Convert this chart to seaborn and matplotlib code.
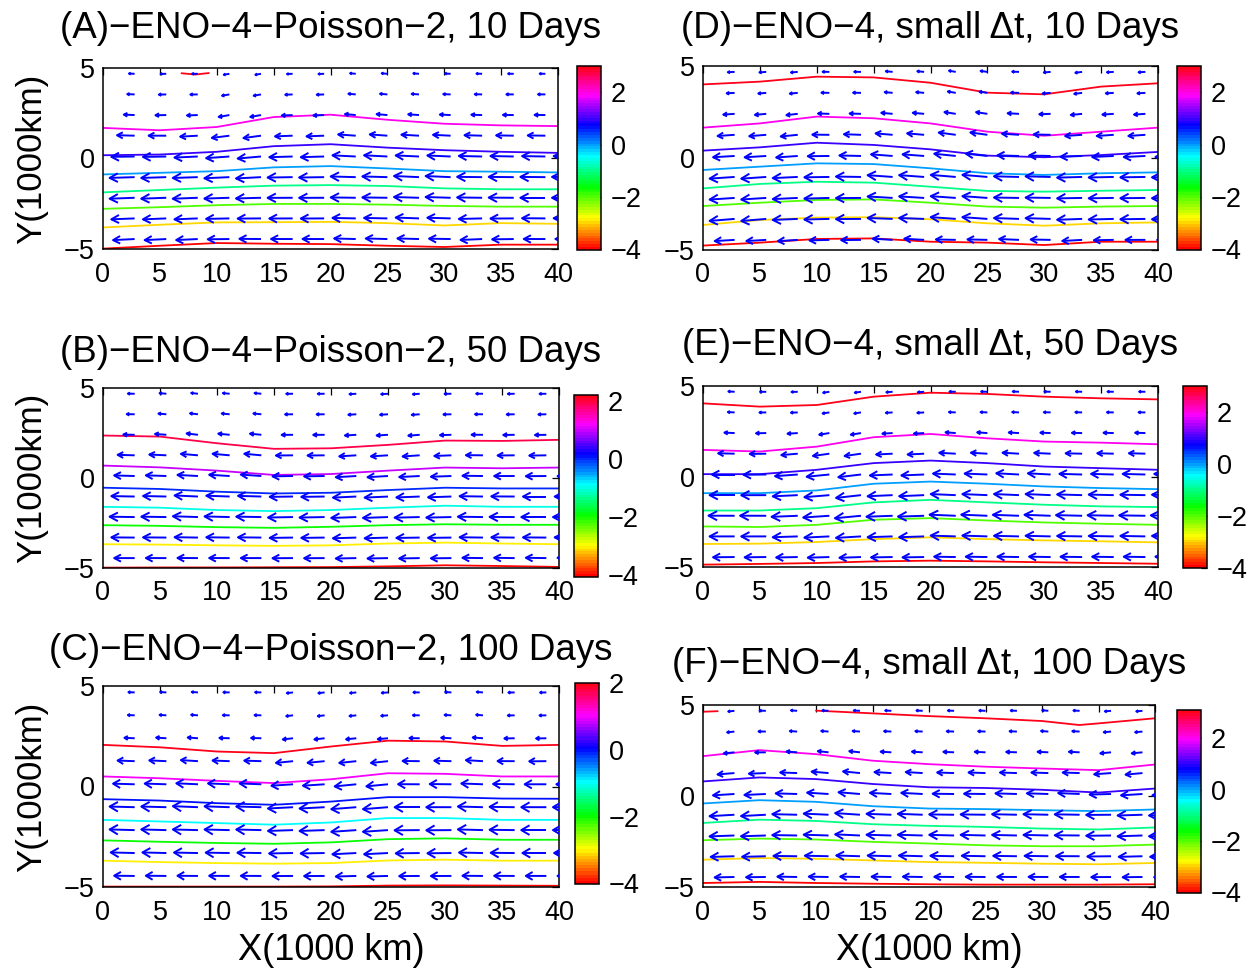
import numpy as np
import pandas as pd
import matplotlib
matplotlib.use("Agg")
import matplotlib.pyplot as plt
import seaborn as sns
from matplotlib.collections import LineCollection
from matplotlib.colors import Normalize
from matplotlib.cm import ScalarMappable

sns.set_style("white")
plt.rcParams["font.family"] = ["Liberation Sans", "DejaVu Sans"]
plt.rcParams.update({"text.color": "black", "axes.labelcolor": "black",
                     "xtick.color": "black", "ytick.color": "black"})

W, H = 1254, 972

# ---------------------------------------------------------------- data
X_KNOTS = [0, 5, 10, 15, 20, 25, 30, 35, 40]
LEVELS = [-4, -3, -2, -1, 0, 1, 2]

# height-field contour positions Y (1000 km) at X_KNOTS, one row per level in LEVELS
LINES_A = [
    [-4.98, -4.82, -4.67, -4.71, -4.73, -4.82, -4.89, -4.76, -4.76],
    [-3.81, -3.66, -3.53, -3.52, -3.50, -3.57, -3.70, -3.57, -3.61],
    [-2.78, -2.69, -2.58, -2.51, -2.51, -2.55, -2.62, -2.66, -2.66],
    [-1.87, -1.74, -1.61, -1.50, -1.47, -1.52, -1.65, -1.70, -1.70],
    [-0.88, -0.79, -0.70, -0.49, -0.42, -0.55, -0.70, -0.73, -0.77],
    [0.18, 0.22, 0.37, 0.68, 0.79, 0.60, 0.46, 0.37, 0.31],
    [1.69, 1.56, 1.74, 2.29, 2.42, 2.14, 1.92, 1.83, 1.79],
]
TOP_A_X = [6.9, 8.1, 9.3]
TOP_A_Y = [4.71, 4.64, 4.72]

LINES_B = [
    [-4.98, -4.97, -4.97, -4.96, -4.95, -4.91, -4.85, -4.89, -4.94],
    [-3.68, -3.70, -3.74, -3.77, -3.74, -3.64, -3.59, -3.64, -3.68],
    [-2.62, -2.66, -2.73, -2.77, -2.71, -2.62, -2.57, -2.60, -2.60],
    [-1.60, -1.65, -1.78, -1.84, -1.78, -1.65, -1.54, -1.60, -1.60],
    [-0.54, -0.61, -0.76, -0.86, -0.82, -0.67, -0.54, -0.58, -0.58],
    [0.69, 0.59, 0.41, 0.17, 0.22, 0.41, 0.58, 0.54, 0.58],
    [2.36, 2.30, 1.93, 1.62, 1.65, 1.84, 2.08, 2.06, 2.12],
]

LINES_C = [
    [-4.98, -4.98, -4.98, -4.98, -4.97, -4.93, -4.92, -4.93, -4.94],
    [-3.69, -3.76, -3.81, -3.84, -3.81, -3.68, -3.64, -3.69, -3.69],
    [-2.68, -2.75, -2.81, -2.85, -2.78, -2.62, -2.58, -2.65, -2.65],
    [-1.66, -1.74, -1.82, -1.90, -1.79, -1.57, -1.57, -1.66, -1.66],
    [-0.63, -0.70, -0.83, -0.91, -0.75, -0.53, -0.53, -0.60, -0.61],
    [0.50, 0.41, 0.28, 0.17, 0.36, 0.66, 0.63, 0.50, 0.50],
    [2.07, 1.95, 1.74, 1.66, 1.99, 2.28, 2.24, 2.02, 2.07],
]

LINES_D = [
    [-4.76, -4.60, -4.40, -4.37, -4.55, -4.60, -4.73, -4.55, -4.55],
    [-3.64, -3.37, -3.24, -3.22, -3.33, -3.55, -3.68, -3.55, -3.50],
    [-2.61, -2.43, -2.28, -2.25, -2.43, -2.64, -2.70, -2.64, -2.61],
    [-1.65, -1.41, -1.29, -1.34, -1.56, -1.79, -1.83, -1.78, -1.74],
    [-0.65, -0.47, -0.29, -0.33, -0.56, -0.83, -0.92, -0.83, -0.78],
    [0.40, 0.58, 0.83, 0.71, 0.47, 0.13, 0.04, 0.16, 0.33],
    [1.65, 1.88, 2.25, 2.16, 1.88, 1.43, 1.21, 1.43, 1.65],
]
TOP_D_X = X_KNOTS
TOP_D_Y = [4.00, 4.15, 4.42, 4.38, 4.09, 3.55, 3.46, 3.88, 4.06]

LINES_E = [
    [-4.87, -4.83, -4.78, -4.69, -4.65, -4.69, -4.74, -4.78, -4.82],
    [-3.73, -3.71, -3.62, -3.46, -3.36, -3.46, -3.53, -3.58, -3.64],
    [-2.76, -2.79, -2.67, -2.39, -2.30, -2.43, -2.54, -2.61, -2.67],
    [-1.88, -1.88, -1.75, -1.43, -1.29, -1.43, -1.56, -1.65, -1.69],
    [-0.92, -0.92, -0.77, -0.40, -0.28, -0.40, -0.55, -0.64, -0.70],
    [0.13, 0.13, 0.37, 0.74, 0.88, 0.74, 0.55, 0.46, 0.37],
    [1.47, 1.38, 1.65, 2.17, 2.35, 2.11, 1.93, 1.87, 1.78],
]
TOP_E_X = X_KNOTS
TOP_E_Y = [4.04, 3.86, 3.95, 4.41, 4.63, 4.56, 4.41, 4.32, 4.26]

LINES_F = [
    [-4.78, -4.72, -4.78, -4.82, -4.85, -4.87, -4.87, -4.87, -4.85],
    [-3.50, -3.41, -3.45, -3.54, -3.63, -3.67, -3.72, -3.75, -3.68],
    [-2.43, -2.34, -2.39, -2.52, -2.61, -2.71, -2.76, -2.76, -2.67],
    [-1.48, -1.30, -1.37, -1.55, -1.64, -1.70, -1.79, -1.84, -1.73],
    [-0.41, -0.23, -0.32, -0.56, -0.69, -0.72, -0.78, -0.83, -0.74],
    [0.80, 1.02, 0.93, 0.66, 0.48, 0.44, 0.34, 0.19, 0.41],
    [2.19, 2.52, 2.30, 1.94, 1.75, 1.61, 1.51, 1.42, 1.73],
]
TOP_F_X1 = [0.0, 1.3]
TOP_F_Y1 = [4.63, 4.66]
TOP_F_X2 = [10.0, 15.0, 20.0, 25.0, 30.0, 33.3, 35.0, 40.0]
TOP_F_Y2 = [4.69, 4.54, 4.39, 4.27, 4.12, 3.90, 3.99, 4.27]

# wind vectors: grid columns / rows and westward speed per row (top to bottom)
ARROW_X = [2.78, 5.56, 8.33, 11.11, 13.89, 16.67, 19.44, 22.22,
           25.00, 27.78, 30.56, 33.33, 36.11, 38.89, 41.67]
ARROW_Y = [4.68, 3.54, 2.40, 1.26, 0.11, -1.03, -2.17, -3.31, -4.45]
SPEED_A = [0.50, 0.65, 0.95, 1.55, 2.05, 2.20, 2.20, 2.05, 1.90]
SPEED_B = [0.60, 0.70, 1.00, 1.50, 1.80, 2.05, 2.20, 2.05, 1.80]
SPEED_C = [0.55, 0.60, 0.90, 1.50, 1.90, 2.20, 2.20, 2.10, 1.80]
SPEED_D = [0.60, 0.70, 1.00, 1.50, 1.90, 2.20, 2.20, 2.20, 1.75]
SPEED_E = [0.55, 0.60, 0.90, 1.45, 2.00, 2.20, 2.30, 2.20, 1.90]
SPEED_F = [0.55, 0.65, 0.95, 1.50, 1.90, 2.20, 2.20, 2.10, 1.75]

# colour-bar ranges of the height field
CRANGE_A = (-4.02, 3.00)
CRANGE_B = (-4.06, 2.20)
CRANGE_C = (-4.02, 2.00)
CRANGE_D = (-4.02, 3.00)
CRANGE_E = (-4.00, 3.00)
CRANGE_F = (-4.02, 3.10)

TITLES = [
    "(A)\u2212ENO\u22124\u2212Poisson\u22122, 10 Days",
    "(B)\u2212ENO\u22124\u2212Poisson\u22122, 50 Days",
    "(C)\u2212ENO\u22124\u2212Poisson\u22122, 100 Days",
    "(D)\u2212ENO\u22124, small \u0394t, 10 Days",
    "(E)\u2212ENO\u22124, small \u0394t, 50 Days",
    "(F)\u2212ENO\u22124, small \u0394t, 100 Days",
]
XTICKS = [0, 5, 10, 15, 20, 25, 30, 35, 40]
YTICKS = [-5, 0, 5]
CBTICKS = [-4, -2, 0, 2]
XLABEL = "X(1000 km)"
YLABEL = "Y(1000km)"


def pieces(lines, extra):
    rows = []
    pid = 0
    for lev, ys in zip(LEVELS, lines):
        for x, y in zip(X_KNOTS, ys):
            rows.append((x, y, lev, pid))
        pid += 1
    for lev, xs, ys in extra:
        for x, y in zip(xs, ys):
            rows.append((x, y, lev, pid))
        pid += 1
    return pd.DataFrame(rows, columns=["x", "y", "level", "piece"])


PANELS = [
    dict(lines=pieces(LINES_A, [(3, TOP_A_X, TOP_A_Y)]), speed=SPEED_A, cr=CRANGE_A,
         ax=(103, 68, 558, 249), cb=(577, 66, 601, 250), title_dy=40),
    dict(lines=pieces(LINES_B, []), speed=SPEED_B, cr=CRANGE_B,
         ax=(103, 388, 559, 568), cb=(574, 395, 598, 577), title_dy=36),
    dict(lines=pieces(LINES_C, []), speed=SPEED_C, cr=CRANGE_C,
         ax=(103, 686, 559, 887), cb=(575, 683, 599, 884), title_dy=36),
    dict(lines=pieces(LINES_D, [(3, TOP_D_X, TOP_D_Y)]), speed=SPEED_D, cr=CRANGE_D,
         ax=(703, 66, 1158, 250), cb=(1177, 66, 1201, 250), title_dy=38),
    dict(lines=pieces(LINES_E, [(3, TOP_E_X, TOP_E_Y)]), speed=SPEED_E, cr=CRANGE_E,
         ax=(703, 386, 1158, 567), cb=(1183, 386, 1207, 568), title_dy=41),
    dict(lines=pieces(LINES_F, [(3, TOP_F_X1, TOP_F_Y1), (3, TOP_F_X2, TOP_F_Y2)]),
         speed=SPEED_F, cr=CRANGE_F,
         ax=(703, 705, 1155, 887), cb=(1177, 710, 1201, 893), title_dy=40),
]


def rect(box):
    l, t, r, b = box
    return [l / W, 1 - b / H, (r - l) / W, (b - t) / H]


def local_slope(df, x, y):
    """Slope of the contour field at (x, y), from the neighbouring contour lines."""
    ys, ss = [], []
    for _, g in df.groupby("piece"):
        gx, gy = g["x"].to_numpy(), g["y"].to_numpy()
        if gx.min() <= x <= gx.max() and len(gx) > 2:
            y0 = np.interp(x, gx, gy)
            lo, hi = max(x - 0.6, gx.min()), min(x + 0.6, gx.max())
            s = (np.interp(hi, gx, gy) - np.interp(lo, gx, gy)) / (hi - lo)
            ys.append(y0)
            ss.append(s)
    order = np.argsort(ys)
    return float(np.interp(y, np.array(ys)[order], np.array(ss)[order]))


def arrow_segments(df, speeds):
    segs = []
    a = b = 0.33
    for y0, L in zip(ARROW_Y, speeds):
        for x0 in ARROW_X:
            s = local_slope(df, min(x0 - L / 2, 40), y0)
            u = -L / np.sqrt(1 + s * s)
            v = u * s
            hx, hy = x0 + u, y0 + v
            segs.append([(x0, y0), (hx, hy)])
            segs.append([(hx - a * (u + b * v), hy - a * (v - b * u)), (hx, hy),
                         (hx - a * (u - b * v), hy - a * (v + b * u))])
    return segs


cmap = matplotlib.colormaps["hsv"].resampled(64)

fig = plt.figure(figsize=(W / 100, H / 100), dpi=100)
fig.patch.set_facecolor("white")

for i, p in enumerate(PANELS):
    ax = fig.add_axes(rect(p["ax"]))
    norm = Normalize(*p["cr"])
    sns.lineplot(data=p["lines"], x="x", y="y", hue="level", units="piece",
                 estimator=None, sort=False, palette=cmap, hue_norm=norm,
                 legend=False, linewidth=1.3, ax=ax)
    ax.add_collection(LineCollection(arrow_segments(p["lines"], p["speed"]),
                                     colors="#0000ff", linewidths=1.4, zorder=3))
    ax.set_xlim(0, 40)
    ax.set_ylim(-5, 5)
    ax.set_xticks(XTICKS)
    ax.set_yticks(YTICKS)
    ax.set_xlabel("")
    ax.set_ylabel("")
    for sp in ax.spines.values():
        sp.set_color("black")
        sp.set_linewidth(1.1)
    ax.tick_params(direction="in", length=5, width=0.9, top=True, right=True,
                   colors="black", labelsize=19.5)
    ax.tick_params(axis="x", pad=9)
    ax.tick_params(axis="y", pad=6)
    ax.annotate(TITLES[i], xy=(0.5, 1.0), xycoords="axes fraction",
                xytext=(0, p["title_dy"] * 0.72), textcoords="offset points",
                ha="center", va="center", fontsize=26.5, color="black")

    cax = fig.add_axes(rect(p["cb"]))
    cb = fig.colorbar(ScalarMappable(norm=norm, cmap=cmap), cax=cax, ticks=CBTICKS)
    cb.outline.set_edgecolor("black")
    cb.outline.set_linewidth(1.1)
    cax.tick_params(direction="in", length=4, width=0.9, labelsize=19.5, pad=7,
                    colors="black")

    l, t, r, b = p["ax"]
    if i < 3:
        fig.text(32 / W, 1 - (t + b) / 2 / H, YLABEL, rotation=90,
                 ha="center", va="center", fontsize=25, color="black")
    if i in (2, 5):
        fig.text((l + r) / 2 / W, 1 - 950 / H, XLABEL,
                 ha="center", va="center", fontsize=26, color="black")

fig.savefig("out.png", dpi=100, facecolor="white")
